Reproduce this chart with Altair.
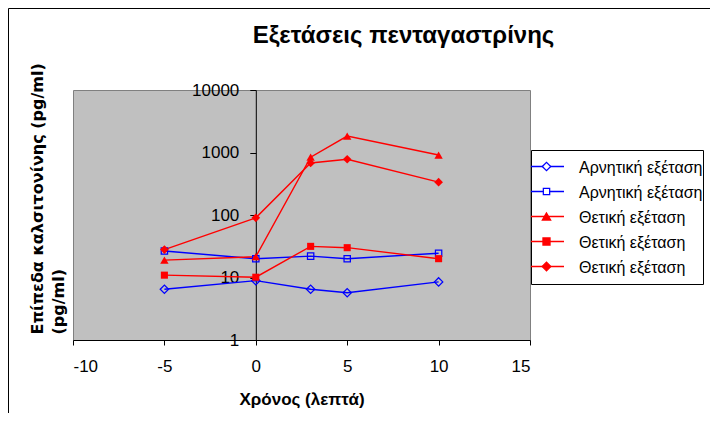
import altair as alt
import pandas as pd

# ---------------- data ----------------
times = [-5, 0, 3, 5, 10]
series_keys = ["neg1", "neg2", "pos1", "pos2", "pos3"]
series_labels = ["Αρνητική εξέταση", "Αρνητική εξέταση", "Θετική εξέταση",
                 "Θετική εξέταση", "Θετική εξέταση"]
neg1 = [6.5, 8.9, 6.5, 5.7, 8.5]
neg2 = [26.5, 20.0, 22.0, 20.0, 24.5]
pos1 = [19.0, 21.5, 840.0, 1830.0, 910.0]
pos2 = [10.9, 10.1, 31.5, 30.0, 20.0]
pos3 = [28.0, 90.0, 680.0, 780.0, 335.0]
series_values = [neg1, neg2, pos1, pos2, pos3]

x_ticks = [-10, -5, 0, 5, 10, 15]
y_ticks = [1, 10, 100, 1000, 10000]

title_text = "Εξετάσεις πενταγαστρίνης"
x_title = "Χρόνος (λεπτά)"
y_title = ["Επίπεδα  καλσιτονίνης (pg/ml)", "(pg/ml)"]

# ---------------- styles ----------------
colors = ["#0000FF", "#0000FF", "#FF0000", "#FF0000", "#FF0000"]
shapes = ["diamond", "square", "triangle-up", "square", "diamond"]
filled = [False, False, True, True, True]
sizes = [70, 40, 70, 50, 75]

rows = []
for k, vals in zip(series_keys, series_values):
    for t, v in zip(times, vals):
        rows.append({"key": k, "t": t, "v": v})
df = pd.DataFrame(rows)

W, H = 457, 250
x_min, x_max = -10, 15
y_axis_offset = -(0 - x_min) / (x_max - x_min) * W

FONT = "Liberation Sans"

x_enc = alt.X(
    "t:Q",
    scale=alt.Scale(domain=[x_min, x_max], nice=False, zero=False),
    axis=alt.Axis(
        values=x_ticks, title=x_title, grid=False,
        labelExpr="toString(datum.value)",
        domainColor="black", domainWidth=1, tickColor="black", tickSize=5,
        labelFont=FONT, labelFontSize=17, labelColor="black", labelPadding=13,
        titleFont=FONT, titleFontSize=17, titleFontWeight="bold",
        titleColor="black", titlePadding=17,
    ),
)
y_enc = alt.Y(
    "v:Q",
    scale=alt.Scale(type="log", domain=[1, 10000], nice=False),
    axis=alt.Axis(
        values=y_ticks, format="d", grid=False, offset=y_axis_offset,
        domainColor="black", domainWidth=1, tickColor="black", tickSize=6,
        labelFont=FONT, labelFontSize=17, labelColor="black", labelPadding=11,
        labelOverlap=False,
        title=y_title, titleAngle=270, titleAlign="left",
        titleBaseline="alphabetic", titleX=-30 + y_axis_offset, titleY=244,
        titleFont="DejaVu Sans", titleFontSize=16, titleFontWeight="bold",
        titleColor="black", titleLineHeight=21,
    ),
)

base = alt.Chart(df).encode(x=x_enc, y=y_enc)

lines = base.mark_line(strokeWidth=1.4).encode(
    color=alt.Color("key:N", scale=alt.Scale(domain=series_keys, range=colors),
                    legend=None),
    detail="key:N",
)

point_layers = []
for i, k in enumerate(series_keys):
    point_layers.append(
        base.transform_filter(alt.datum.key == k).mark_point(
            shape=shapes[i], size=sizes[i], filled=filled[i],
            color=colors[i], strokeWidth=1.25, opacity=1,
        )
    )

# ---------------- legend (drawn as guide marks, pixel layout) ----------------
one = pd.DataFrame({"a": [0]})
LEG_X0, LEG_X1, LEG_Y0, LEG_Y1 = 458.5, 630.5, 60.5, 194.5
ROW0, ROW_STEP = 76.5, 25
SYM_X0, SYM_X1, SYM_XC, TXT_X = 458, 491, 473.5, 506

legend_layers = [
    alt.Chart(one).mark_rect(fill="white", stroke="black", strokeWidth=1).encode(
        x=alt.value(LEG_X0), x2=alt.value(LEG_X1),
        y=alt.value(LEG_Y0), y2=alt.value(LEG_Y1))
]
for i, (lab, col) in enumerate(zip(series_labels, colors)):
    yy = ROW0 + ROW_STEP * i
    legend_layers.append(
        alt.Chart(one).mark_rule(color=col, strokeWidth=1.4).encode(
            x=alt.value(SYM_X0), x2=alt.value(SYM_X1), y=alt.value(yy)))
    legend_layers.append(
        alt.Chart(one).mark_point(
            shape=shapes[i], size=sizes[i], filled=True,
            fill=("white" if not filled[i] else col), stroke=col,
            strokeWidth=1.25, opacity=1,
        ).encode(x=alt.value(SYM_XC), y=alt.value(yy)))
    legend_layers.append(
        alt.Chart(one).mark_text(
            align="left", baseline="middle", font=FONT, fontSize=16,
            color="black",
        ).encode(x=alt.value(TXT_X), y=alt.value(yy + 1), text=alt.value(lab)))

frame_left = alt.Chart(one).mark_rule(color="black", strokeWidth=1).encode(
    x=alt.value(-64.5), y=alt.value(-81.5), y2=alt.value(400))
frame_top = alt.Chart(one).mark_rule(color="black", strokeWidth=1).encode(
    x=alt.value(-64.5), x2=alt.value(700), y=alt.value(-81.5))

chart = alt.layer(frame_left, frame_top, lines, *point_layers, *legend_layers).properties(
    width=W, height=H,
    background="white",
    title=alt.TitleParams(
        text=title_text, font=FONT, fontSize=24, fontWeight="bold",
        color="black", anchor="middle", dx=102, offset=28, dy=68,
    ),
    autosize=alt.AutoSizeParams(type="none"),
    padding={"left": 65, "top": 82, "right": 180, "bottom": 73},
).configure_view(
    fill="#C0C0C0", stroke="#808080", strokeWidth=1,
)

chart.save("out.html", embed_options={"renderer": "svg", "actions": False})
